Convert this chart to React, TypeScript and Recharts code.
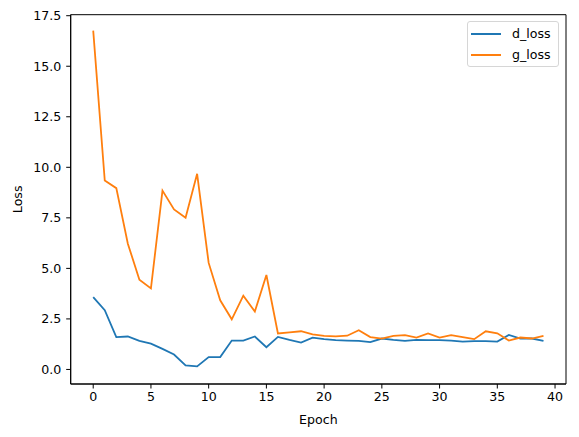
import React from 'react';
import { LineChart, Line, XAxis, YAxis, Legend, ReferenceArea } from 'recharts';

const epochs = [0, 1, 2, 3, 4, 5, 6, 7, 8, 9, 10, 11, 12, 13, 14, 15, 16, 17, 18, 19, 20, 21, 22, 23, 24, 25, 26, 27, 28, 29, 30, 31, 32, 33, 34, 35, 36, 37, 38, 39];
const dLoss = [3.58, 2.93, 1.6, 1.63, 1.41, 1.28, 1.02, 0.74, 0.2, 0.15, 0.61, 0.61, 1.43, 1.43, 1.63, 1.1, 1.61, 1.46, 1.33, 1.57, 1.5, 1.45, 1.43, 1.41, 1.35, 1.53, 1.46, 1.41, 1.46, 1.45, 1.45, 1.43, 1.38, 1.4, 1.4, 1.38, 1.71, 1.53, 1.53, 1.41];
const gLoss = [16.76, 9.35, 8.97, 6.22, 4.44, 4.01, 8.85, 7.92, 7.5, 9.68, 5.27, 3.42, 2.48, 3.65, 2.86, 4.67, 1.78, 1.83, 1.89, 1.74, 1.66, 1.64, 1.67, 1.94, 1.6, 1.53, 1.66, 1.7, 1.58, 1.78, 1.58, 1.7, 1.6, 1.5, 1.89, 1.79, 1.43, 1.58, 1.53, 1.66];
const xTicks = [0, 5, 10, 15, 20, 25, 30, 35, 40];
const yTicks = [0, 2.5, 5, 7.5, 10, 12.5, 15, 17.5];
const series = [
  { key: 'd_loss', color: '#1f77b4' },
  { key: 'g_loss', color: '#ff7f0e' },
];

const xDomain = [-1.95, 40.95];
const yDomain = [-0.72, 17.55];

const data = epochs.map((e, i) => ({ epoch: e, d_loss: dLoss[i], g_loss: gLoss[i] }));

const font = 'DejaVu Sans, sans-serif';
const tickStyle = { fill: '#000', fontSize: 12.6, fontFamily: font };

const LegendBox = () => (
  <div
    style={{
      position: 'relative',
      border: '1px solid #d6d6d6',
      borderRadius: 3,
      background: '#fff',
      width: 90,
      height: 44,
      fontFamily: font,
      fontSize: 12.6,
      color: '#000',
    }}
  >
    {series.map((s, i) => (
      <div key={s.key} style={{ position: 'absolute', left: 3, top: 3.5 + i * 21.6, height: 16, display: 'flex', alignItems: 'center' }}>
        <div style={{ width: 30, height: 2, background: s.color }} />
        <span style={{ marginLeft: 11, lineHeight: '16px' }}>{s.key}</span>
      </div>
    ))}
  </div>
);

export default function App() {
  return (
    <div style={{ position: 'absolute', left: 0, top: 0, width: 579, height: 437, background: '#fff' }}>
      <LineChart width={579} height={437} data={data} margin={{ top: 14.7, right: 13, bottom: 0, left: 0 }}>
        <XAxis
          dataKey="epoch"
          type="number"
          domain={xDomain}
          allowDataOverflow
          ticks={xTicks}
          tick={tickStyle}
          tickSize={4.5}
          tickMargin={4}
          stroke="#000"
          height={53}
          label={({ viewBox }: any) => (
            <text x={viewBox.x + viewBox.width / 2} y={424} textAnchor="middle" fontFamily={font} fontSize={12.6} fill="#000">
              Epoch
            </text>
          )}
        />
        <YAxis
          type="number"
          domain={yDomain}
          allowDataOverflow
          ticks={yTicks}
          tickFormatter={(v: number) => v.toFixed(1)}
          tick={tickStyle}
          tickSize={4.5}
          tickMargin={5}
          stroke="#000"
          width={70.7}
          label={({ viewBox }: any) => (
            <text
              x={22}
              y={viewBox.y + viewBox.height / 2}
              transform={`rotate(-90 22 ${viewBox.y + viewBox.height / 2})`}
              textAnchor="middle"
              fontFamily={font}
              fontSize={12.6}
              fill="#000"
            >
              Loss
            </text>
          )}
        />
        <ReferenceArea
          x1={xDomain[0]}
          x2={xDomain[1]}
          y1={yDomain[0]}
          y2={yDomain[1]}
          fill="none"
          stroke="#000"
          strokeWidth={1}
          ifOverflow="visible"
        />
        <Legend
          layout="vertical"
          align="center"
          verticalAlign="middle"
          content={() => <LegendBox />}
          wrapperStyle={{ position: 'absolute', left: 467, top: 21, width: 92, height: 46 }}
        />
        {series.map((s) => (
          <Line
            key={s.key}
            dataKey={s.key}
            stroke={s.color}
            strokeWidth={1.8}
            dot={false}
            type="linear"
            isAnimationActive={false}
          />
        ))}
      </LineChart>
    </div>
  );
}
